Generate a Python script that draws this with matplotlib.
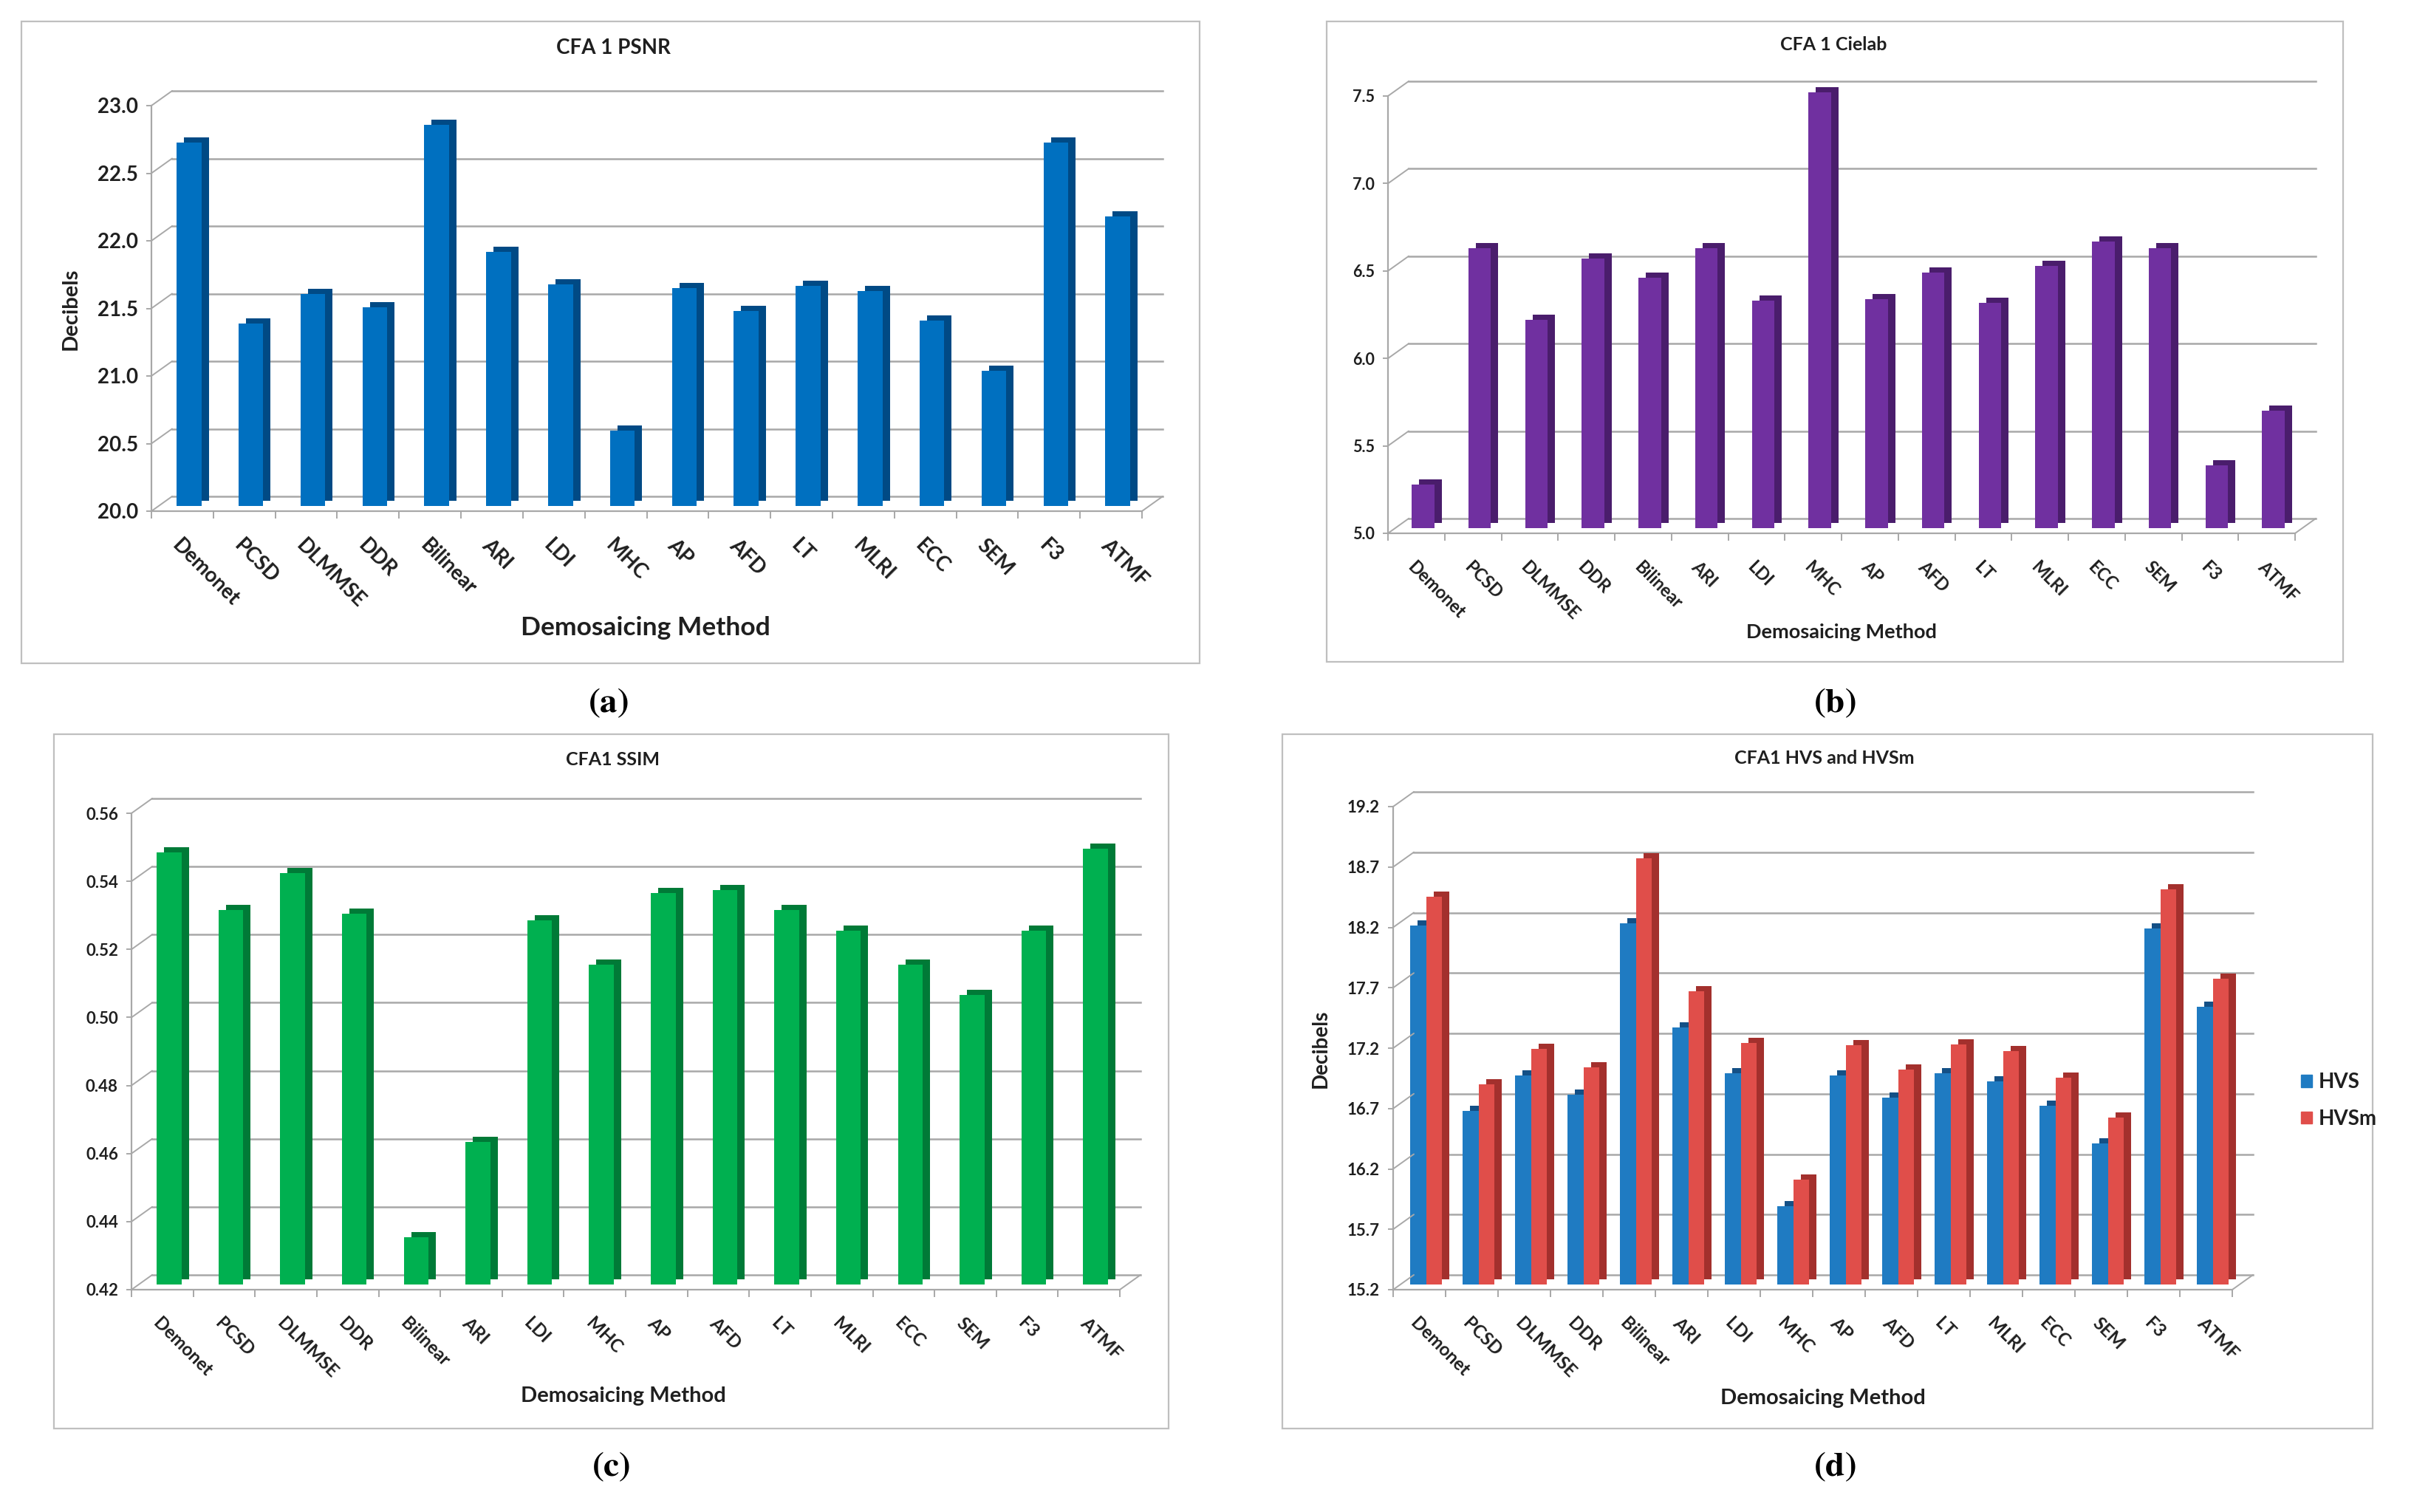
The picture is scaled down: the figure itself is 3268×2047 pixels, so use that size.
import matplotlib
matplotlib.use('Agg')
import matplotlib.pyplot as plt
from matplotlib.patches import Rectangle
from matplotlib.transforms import ScaledTranslation
import numpy as np

methods = ["Demonet", "PCSD", "DLMMSE", "DDR", "Bilinear", "ARI", "LDI", "MHC",
           "AP", "AFD", "LT", "MLRI", "ECC", "SEM", "F3", "ATMF"]

psnr = [22.69, 21.35, 21.57, 21.47, 22.82, 21.88, 21.64, 20.56,
        21.61, 21.44, 21.63, 21.59, 21.37, 21.00, 22.69, 22.14]
cielab = [5.25, 6.60, 6.19, 6.54, 6.43, 6.60, 6.30, 7.49,
          6.31, 6.46, 6.29, 6.50, 6.64, 6.60, 5.36, 5.67]
ssim = [0.547, 0.530, 0.541, 0.529, 0.434, 0.462, 0.527, 0.514,
        0.535, 0.536, 0.530, 0.524, 0.514, 0.505, 0.524, 0.548]
hvs = [18.17, 16.64, 16.93, 16.77, 18.19, 17.33, 16.95, 15.85,
       16.93, 16.75, 16.95, 16.88, 16.68, 16.37, 18.15, 17.50]
hvsm = [18.41, 16.86, 17.15, 17.00, 18.73, 17.63, 17.20, 16.07,
        17.18, 16.98, 17.19, 17.13, 16.91, 16.58, 18.47, 17.73]

W, H, DPI = 3268, 2047, 100
plt.rcParams['font.family'] = ['Lato', 'DejaVu Sans']
plt.rcParams['font.weight'] = 'bold'
plt.rcParams['mathtext.fontset'] = 'stix'
TXT = '#1f1f1f'
GRID = '#a8a8a8'
WALL_DX, WALL_DY = 28, 20       # depth of chart walls, px
BAR_DX, BAR_DY = 9, 7           # bar front offset from front plane, px
SIDE_DX, SIDE_DY = 10, 7        # bar depth, px

fig = plt.figure(figsize=(W / DPI, H / DPI), dpi=DPI)
fig.patch.set_facecolor('white')


def shift(ax, dx, dy):
    return ax.transData + ScaledTranslation(dx / DPI, dy / DPI, fig.dpi_scale_trans)


def make_axes(x0, x1, ytop, ybot):
    return fig.add_axes([x0 / W, 1 - ybot / H, (x1 - x0) / W, (ybot - ytop) / H])


def panel_box(x0, y0, x1, y1):
    fig.add_artist(Rectangle((x0 / W, 1 - y1 / H), (x1 - x0) / W, (y1 - y0) / H,
                             transform=fig.transFigure, fill=False,
                             edgecolor='#bfbfbf', lw=1.6))


def panel_label(x, y, letter):
    fig.text(x / W, 1 - y / H, r'$(\mathbf{%s})$' % letter, ha='center', va='center',
             fontsize=34, color='black')


def setup(ax, yticks, fmt, tick_fs, xtick_fs):
    n = len(methods)
    x = np.arange(n)
    ax.set_xlim(-0.5, n - 0.5)
    ax.set_ylim(yticks[0], yticks[-1])
    ax.patch.set_alpha(0)
    for s in ['top', 'right']:
        ax.spines[s].set_visible(False)
    for s in ['left', 'bottom']:
        ax.spines[s].set_color(GRID)
        ax.spines[s].set_linewidth(1.6)
    # back wall gridlines and floor
    for yv in yticks:
        ax.plot([-0.5, n - 0.5], [yv, yv], color=GRID, lw=1.8,
                transform=shift(ax, WALL_DX, WALL_DY), clip_on=False, zorder=0.5)
        ax.annotate('', xy=(-0.5, yv), xycoords='data',
                    xytext=(WALL_DX * 0.72, WALL_DY * 0.72), textcoords='offset points',
                    arrowprops=dict(arrowstyle='-', color=GRID, lw=1.4,
                                    shrinkA=0, shrinkB=0), annotation_clip=False)
    ax.annotate('', xy=(n - 0.5, yticks[0]), xycoords='data',
                xytext=(WALL_DX * 0.72, WALL_DY * 0.72), textcoords='offset points',
                arrowprops=dict(arrowstyle='-', color=GRID, lw=1.4,
                                shrinkA=0, shrinkB=0), annotation_clip=False)
    ax.set_yticks(yticks)
    ax.set_yticklabels([fmt % v for v in yticks], fontsize=tick_fs, color=TXT,
                       fontweight='bold')
    ax.tick_params(axis='y', length=5, width=1.4, color=GRID, pad=8)
    ax.set_xticks(x)
    ax.set_xticklabels(methods, fontsize=xtick_fs, color=TXT, fontweight='bold')
    ax.set_xticks(np.arange(n + 1) - 0.5, minor=True)
    ax.tick_params(axis='x', which='major', length=0, pad=24)
    ax.tick_params(axis='x', which='minor', length=7, width=1.4, color=GRID)
    plt.setp(ax.get_xticklabels(), rotation=-45, ha='left', va='top',
             rotation_mode='anchor')
    return x


def bars3d(ax, x, vals, width, base, front, dark):
    ax.bar(x, np.array(vals) - base, width, bottom=base, color=dark, lw=0,
           transform=shift(ax, BAR_DX + SIDE_DX, BAR_DY + SIDE_DY), clip_on=False, zorder=2)
    ax.bar(x, np.array(vals) - base, width, bottom=base, color=front, lw=0,
           transform=shift(ax, BAR_DX, BAR_DY), clip_on=False, zorder=2)


# (a) PSNR
panel_box(29, 29, 1624, 898)
ax = make_axes(205, 1546, 143, 692)
x = setup(ax, np.arange(20.0, 23.01, 0.5), '%.1f', 20, 20)
bars3d(ax, x, psnr, 0.4, 20.0, '#0070c0', '#004a85')
fig.text(830 / W, 1 - 65 / H, 'CFA 1 PSNR', ha='center', va='center', fontsize=20, color=TXT)
fig.text(874 / W, 1 - 850 / H, 'Demosaicing Method', ha='center', va='center', fontsize=25.5, color=TXT)
fig.text(96 / W, 1 - 418 / H, 'Decibels', ha='center', va='center', rotation=90, fontsize=21, color=TXT)
panel_label(823, 952, 'a')

# (b) Cielab
panel_box(1796, 29, 3172, 896)
ax = make_axes(1879, 3107, 130, 722)
x = setup(ax, np.arange(5.0, 7.51, 0.5), '%.1f', 15.5, 17)
bars3d(ax, x, cielab, 0.4, 5.0, '#7030a0', '#4a1d6c')
fig.text(2482 / W, 1 - 61 / H, 'CFA 1 Cielab', ha='center', va='center', fontsize=18, color=TXT)
fig.text(2493 / W, 1 - 856 / H, 'Demosaicing Method', ha='center', va='center', fontsize=19.5, color=TXT)
panel_label(2484, 952, 'b')

# (c) SSIM
panel_box(73, 994, 1582, 1934)
ax = make_axes(178, 1516, 1101, 1746)
x = setup(ax, np.arange(0.42, 0.5601, 0.02), '%.2f', 16, 17.5)
bars3d(ax, x, ssim, 0.4, 0.42, '#00b050', '#007a37')
fig.text(829 / W, 1 - 1028 / H, 'CFA1 SSIM', ha='center', va='center', fontsize=18, color=TXT)
fig.text(844 / W, 1 - 1890 / H, 'Demosaicing Method', ha='center', va='center', fontsize=21, color=TXT)
panel_label(827, 1986, 'c')

# (d) HVS and HVSm
panel_box(1736, 994, 3212, 1934)
ax = make_axes(1886, 3022, 1092, 1746)
x = setup(ax, np.round(np.arange(15.2, 19.21, 0.5), 1), '%.1f', 16, 17.5)
bw = 0.3
bars3d(ax, x - bw / 2, hvs, bw, 15.2, '#1f7bc2', '#145086')
bars3d(ax, x + bw / 2, hvsm, bw, 15.2, '#e04e4a', '#a3302d')
fig.text(2470 / W, 1 - 1026 / H, 'CFA1 HVS and HVSm', ha='center', va='center', fontsize=18, color=TXT)
fig.text(2468 / W, 1 - 1893 / H, 'Demosaicing Method', ha='center', va='center', fontsize=21, color=TXT)
fig.text(1788 / W, 1 - 1420 / H, 'Decibels', ha='center', va='center', rotation=90, fontsize=20, color=TXT)
h1 = Rectangle((0, 0), 1, 1, color='#1f7bc2')
h2 = Rectangle((0, 0), 1, 1, color='#e04e4a')
fig.legend([h1, h2], ['HVS', 'HVSm'], loc='center left',
           bbox_to_anchor=(3090 / W, 1 - 1490 / H), frameon=False,
           fontsize=20, handlelength=0.55, handleheight=0.55, handletextpad=0.3,
           labelspacing=0.85, labelcolor=TXT)
panel_label(2484, 1986, 'd')

fig.savefig('out.png', dpi=DPI, facecolor='white')
